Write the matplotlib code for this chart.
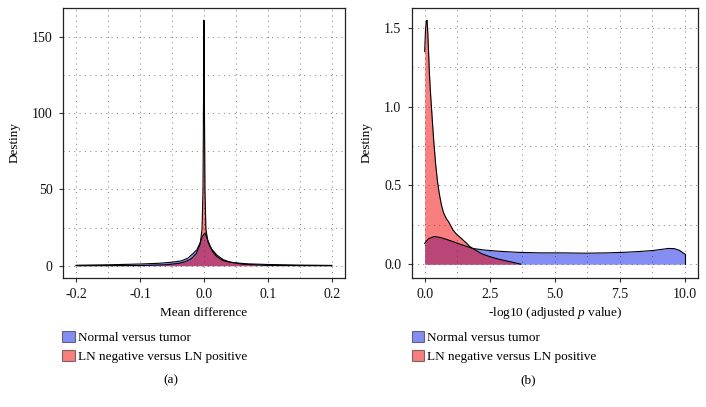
import matplotlib
matplotlib.use("Agg")
import matplotlib.pyplot as plt
from matplotlib.patches import Patch
from matplotlib.ticker import MultipleLocator, FormatStrFormatter

plt.rcParams['font.family'] = ['Liberation Serif', 'DejaVu Serif']
plt.rcParams['axes.unicode_minus'] = False
plt.rcParams['mathtext.fontset'] = 'custom'
plt.rcParams['mathtext.it'] = 'Liberation Serif:italic'
plt.rcParams['mathtext.rm'] = 'Liberation Serif'

series_names = ["Normal versus tumor", "LN negative versus LN positive"]

# Panel (a): density of mean difference
a_blue_x = [-0.2, -0.15, -0.1, -0.07, -0.05, -0.035, -0.025, -0.017, -0.011, -0.006, -0.002,
            0.0015, 0.005, 0.009, 0.014, 0.02, 0.03, 0.04, 0.05, 0.07, 0.1, 0.15, 0.2]
a_blue_y = [0.3, 0.6, 1.1, 1.6, 2.3, 3.2, 5.0, 8.0, 10.5, 15.0, 19.5,
            21.5, 18.0, 13.0, 9.0, 6.0, 3.3, 2.3, 1.8, 1.2, 0.8, 0.4, 0.2]
a_red_x = [-0.2, -0.1, -0.06, -0.04, -0.03, -0.02, -0.012, -0.006, -0.003, -0.0015, -0.0008, 0.0,
           0.0008, 0.0015, 0.003, 0.006, 0.012, 0.02, 0.03, 0.04, 0.06, 0.1, 0.2]
a_red_y = [0.0, 0.1, 0.6, 1.5, 2.5, 4.5, 8.0, 14.0, 24.0, 50.0, 100.0, 161.0,
           100.0, 50.0, 24.0, 16.0, 11.0, 7.0, 4.0, 2.5, 1.0, 0.2, 0.0]

# Panel (b): density of -log10(adjusted p value)
b_blue_x = [0.0, 0.15, 0.37, 0.6, 0.85, 1.08, 1.4, 1.85, 2.3, 2.8, 3.2, 3.65, 4.5, 5.3, 6.2,
            7.0, 7.6, 8.2, 8.79, 9.1, 9.37, 9.6, 9.8, 10.0]
b_blue_y = [0.133, 0.162, 0.176, 0.17, 0.157, 0.144, 0.125, 0.10, 0.09, 0.083, 0.079, 0.075,
            0.072, 0.072, 0.07, 0.072, 0.075, 0.08, 0.087, 0.094, 0.10, 0.099, 0.088, 0.065]
b_red_x = [0.0, 0.03, 0.06, 0.09, 0.12, 0.15, 0.18, 0.22, 0.26, 0.3, 0.35, 0.42, 0.49, 0.56,
           0.64, 0.72, 0.8, 0.85, 0.92, 1.0, 1.1, 1.2, 1.3, 1.4, 1.5, 1.6, 1.73, 1.85, 2.0,
           2.2, 2.5, 2.75, 3.0, 3.25, 3.5, 3.7]
b_red_y = [1.35, 1.48, 1.54, 1.55, 1.47, 1.35, 1.22, 1.1, 1.0, 0.9, 0.78, 0.64, 0.53, 0.45,
           0.38, 0.33, 0.30, 0.285, 0.27, 0.245, 0.215, 0.195, 0.18, 0.165, 0.15, 0.135, 0.113, 0.10, 0.085,
           0.066, 0.048, 0.036, 0.026, 0.017, 0.008, 0.0]

blue = '#0A1EE6'
red = '#F00000'
alpha = 0.5

fig = plt.figure(figsize=(7.06, 4.07), dpi=100)
ax1 = fig.add_axes([0.0892, 0.3170, 0.3994, 0.6634])
ax2 = fig.add_axes([0.5831, 0.3170, 0.4051, 0.6634])

def style(ax):
    ax.set_facecolor('white')
    for s in ax.spines.values():
        s.set_color('#222222')
        s.set_linewidth(0.9)
    ax.tick_params(axis='both', which='major', direction='out', length=3, width=0.8,
                   color='#333333', labelsize=10, labelcolor='#111111')
    ax.tick_params(axis='x', which='major', pad=4)
    ax.tick_params(axis='y', which='major', pad=4.5)
    ax.tick_params(axis='both', which='minor', length=0)
    ax.grid(True, which='both', color='#7a7a7a', linestyle=(0, (1, 4.5)), linewidth=0.7)
    ax.set_axisbelow(True)

def draw(ax, x, y, color):
    ax.fill_between(x, 0, y, color=color, alpha=alpha, linewidth=0)
    ax.plot(x, y, color='black', linewidth=0.8)

draw(ax1, a_blue_x, a_blue_y, blue)
draw(ax1, a_red_x, a_red_y, red)
ax1.set_xlim(-0.2205, 0.2205)
ax1.set_ylim(-8.05, 169.05)
ax1.xaxis.set_major_locator(MultipleLocator(0.1))
ax1.xaxis.set_minor_locator(MultipleLocator(0.05))
ax1.yaxis.set_major_locator(MultipleLocator(50))
ax1.yaxis.set_minor_locator(MultipleLocator(25))
ax1.xaxis.set_major_formatter(FormatStrFormatter('%.1f'))
ax1.yaxis.set_major_formatter(FormatStrFormatter('%d'))
style(ax1)
ax1.set_xlabel('Mean difference', fontsize=9.5, va='center')
ax1.set_ylabel('Destiny', fontsize=9.5, va='center')
ax1.xaxis.set_label_coords(0.5, -0.13)
ax1.yaxis.set_label_coords(-0.170, 0.5)

draw(ax2, b_blue_x, b_blue_y, blue)
ax2.plot([b_blue_x[-1], b_blue_x[-1]], [0, b_blue_y[-1]], color='black', linewidth=0.8)
draw(ax2, b_red_x, b_red_y, red)
ax2.set_xlim(-0.5, 10.5)
ax2.set_ylim(-0.0875, 1.6275)
ax2.xaxis.set_major_locator(MultipleLocator(2.5))
ax2.xaxis.set_minor_locator(MultipleLocator(1.25))
ax2.yaxis.set_major_locator(MultipleLocator(0.5))
ax2.yaxis.set_minor_locator(MultipleLocator(0.25))
ax2.xaxis.set_major_formatter(FormatStrFormatter('%.1f'))
ax2.yaxis.set_major_formatter(FormatStrFormatter('%.1f'))
style(ax2)
ax2.set_xlabel('-log10 (adjusted $p$ value)', fontsize=9.5, va='center')
ax2.set_ylabel('Destiny', fontsize=9.5, va='center')
ax2.xaxis.set_label_coords(0.5, -0.13)
ax2.yaxis.set_label_coords(-0.157, 0.5)

handles = [Patch(facecolor=blue, alpha=alpha, edgecolor='black', linewidth=0.8),
           Patch(facecolor=red, alpha=alpha, edgecolor='black', linewidth=0.8)]

for xa, lab, xc in [(0.088, '(a)', 0.242), (0.583, '(b)', 0.748)]:
    fig.legend(handles, series_names, loc='upper left', bbox_to_anchor=(xa, 0.187),
               frameon=False, fontsize=9.5, handlelength=0.95, handleheight=0.95,
               handletextpad=0.25, labelspacing=0.45, borderpad=0, borderaxespad=0)
    fig.text(xc, 0.066, lab, ha='center', va='center', fontsize=9.5)

fig.savefig('out.png', dpi=100)
